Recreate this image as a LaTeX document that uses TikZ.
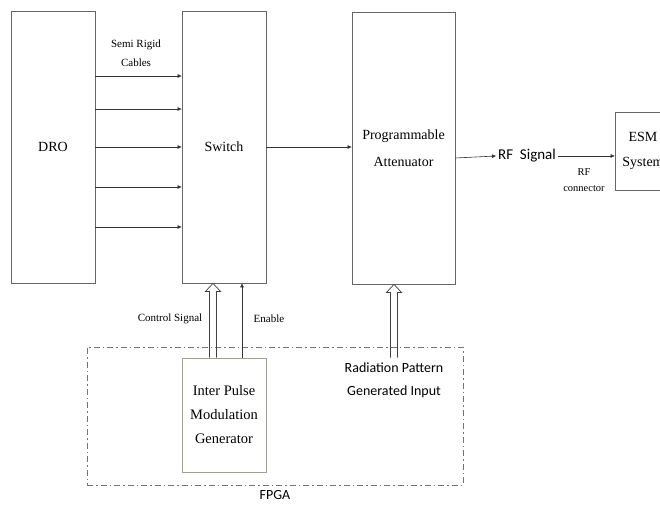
\documentclass[tikz,border=0pt]{standalone}
\usepackage{fontspec}
\setmainfont{Liberation Serif}
\newfontfamily\calfont{Carlito}
\usetikzlibrary{arrows.meta, positioning, calc}
\definecolor{ipmgedge}{HTML}{A2A28C}

% hollow block arrow from #1 (tail) up to #2 (tip)
\newcommand{\hollowarr}[2]{%
  \draw[hollowline] ($(#1)+(-3.5,0)$) -- ($(#2)+(-3.5,8)$) -- ($(#2)+(-7.5,8)$)
    -- (#2) -- ($(#2)+(7.5,8)$) -- ($(#2)+(3.5,8)$) -- ($(#1)+(3.5,0)$);}

\begin{document}
\begin{tikzpicture}[
  x=1pt, y=-1pt,
  box/.style={draw=black!60, line width=0.8pt, align=center, font=\fontsize{14}{27}\selectfont,
    minimum width=84pt, minimum height=272pt, inner sep=0pt},
  lbl/.style={align=center, font=\fontsize{10.5}{16}\selectfont, inner sep=1pt},
  arr/.style={-{Triangle[length=4pt, width=3.5pt]}, line width=0.6pt, black!80},
  hollowline/.style={draw=black!75, line width=0.7pt, line join=miter}
]
\useasboundingbox (0,0) rectangle (660,510);
\clip (0,0) rectangle (660,510);

% main blocks
\node[box] (dro) at (53,147) {DRO};
\node[box] (switch) at (224,147) {Switch};
\node[box, minimum width=103pt] (atten) at (403.5,148) {Programmable\\Attenuator};
\node[box, minimum width=56pt, minimum height=78pt, font=\fontsize{14}{25}\selectfont] (esm) at (643,151) {ESM\\System};

% FPGA part
\node[draw=black!55, line width=0.7pt, dash pattern=on 6pt off 3pt on 1.5pt off 3pt,
  minimum width=376pt, minimum height=138pt] (fpga) at (275,416) {};
\node[font=\calfont\fontsize{14}{16}\selectfont, below=2pt of fpga] (fpgalbl) {FPGA};
\node[box, draw=ipmgedge, minimum height=114pt, font=\fontsize{14.5}{24}\selectfont] (ipmg) at (224,415) {Inter Pulse\\Modulation\\Generator};
\node[align=center, font=\calfont\fontsize{14}{23}\selectfont, inner sep=1pt] (radin) at (394,380) {Radiation Pattern\\Generated Input};

% labels
\node[lbl, font=\fontsize{11}{19}\selectfont] (cables) at (136,53) {Semi Rigid\\Cables};
\node[font=\calfont\fontsize{15}{16}\selectfont, inner sep=2pt] (rfsig) at (527,156) {RF\ \ Signal};
\node[lbl] (rfcon) at (584,180) {RF\\connector};
\node[lbl, font=\fontsize{11}{13}\selectfont] (ctrl) at (170,319) {Control Signal};
\node[lbl, font=\fontsize{11}{13}\selectfont] (enable) at (269,319) {Enable};

% connectors
\foreach \dy in {71,38,0,-40,-80}
  \draw[arr] ([yshift=\dy pt]dro.east) -- ([yshift=\dy pt]switch.west);
\draw[arr] (switch) -- (switch -| atten.west);
\draw[arr] ([yshift=-10pt]atten.east) -- (rfsig.west);
\draw[arr] (rfsig.east) -- (rfsig.east -| esm.west);
\hollowarr{[xshift=-11pt]ipmg.north}{[xshift=-11pt]switch.south}
\draw[arr, line width=0.5pt] ([xshift=18pt]ipmg.north) -- ([xshift=18pt]switch.south);
\hollowarr{radin.north |- ipmg.north}{radin.north |- atten.south}
\end{tikzpicture}
\end{document}
